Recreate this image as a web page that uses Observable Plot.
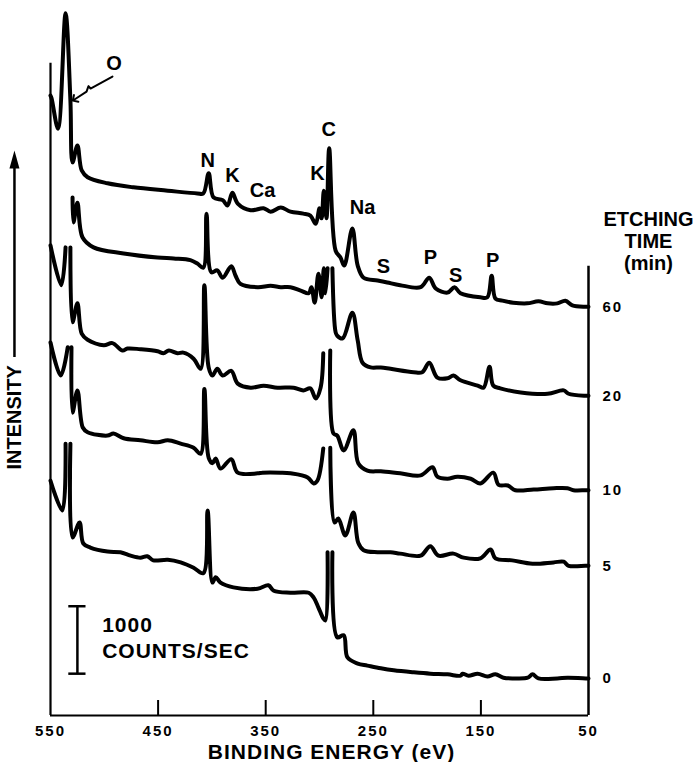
<!DOCTYPE html>
<html>
<head>
<meta charset="utf-8">
<script src="https://cdn.jsdelivr.net/npm/d3@7"></script>
<script src="https://cdn.jsdelivr.net/npm/@observablehq/plot@0.6"></script>
<style>
  html, body { margin: 0; padding: 0; background: #fff; }
  #chart svg { display: block; }
  #chart text { font-family: "Liberation Sans", Arial, sans-serif; font-weight: bold; fill: #000; }
  #chart g[font-size="15"] { letter-spacing: 2px; }
  #chart g[font-size="21"] { letter-spacing: 1px; }
</style>
</head>
<body>
<div id="chart"></div>
<script>
// XPS survey spectra of the surface after successive ion-etching times.
// Each spectrum: [binding energy (eV), counts/sec as stacked on the plot]; null = pen break (off-scale peak).
const etchingTimes = [60, 20, 10, 5, 0]; // minutes

const spectrum60 = [
  [550, 9190], [549, 9150], [543, 8700], [536, 10410], [531.5, 9120], [529.5, 8200], [525, 8450],
  [521, 8080], [515.5, 7980], [497, 7890], [473, 7830], [441, 7780], [413.5, 7740], [408, 7740],
  [403, 8040], [398.5, 7680], [390, 7640], [385.5, 7560], [381, 7750], [376, 7590], [364, 7490],
  [352, 7520], [345.5, 7470], [336, 7530], [327, 7470], [315, 7440], [308.5, 7410], [303.5, 7290],
  [300, 7520], [298, 7370], [296, 7780], [293.5, 7370], [291, 8410], [285, 6890], [280.5, 6790],
  [277, 6670], [269.5, 7220], [264.5, 6670], [259, 6490], [246, 6450], [237, 6420], [225, 6380],
  [206, 6350], [198, 6490], [192, 6330], [181, 6270], [174.5, 6350], [169, 6260], [150.5, 6200],
  [144, 6200], [140, 6520], [136.5, 6180], [130, 6150], [120, 6120], [107, 6110], [96.5, 6140],
  [88, 6110], [79, 6110], [71.5, 6150], [65, 6080], [53, 6060], [50, 6060]
];

const spectrum20 = [
  [529.5, 7680], [528.6, 7310], [525, 7600], [520.3, 7090], [510, 6940], [482, 6850], [450.5, 6790],
  [435.5, 6775], [420, 6750], [413.5, 6700], [408, 6640], [405, 7440], [400.5, 6570], [395, 6600],
  [390, 6490], [382, 6660], [378, 6520], [373.5, 6400], [357.5, 6350], [345.5, 6370], [336, 6350],
  [327, 6350], [317.5, 6300], [310, 6260], [307.5, 6350], [304.5, 6120], [301, 6550], [298, 6200],
  [296, 6630], [294.5, 6260], [292.5, 6630], null, [288, 6630], [285, 5680], [283.5, 5630],
  [278.5, 5590], [269.5, 5970], [264.5, 5560], [260, 5230], [252.5, 5160], [243, 5160], [234, 5140],
  [212.5, 5090], [204.5, 5090], [198, 5230], [190.5, 5010], [181, 5000], [175.5, 5040], [169, 4970],
  [153, 4890], [147.5, 4860], [142, 5170], [138.5, 4890], [132, 4850], [113, 4790], [88, 4770],
  [73, 4820], [68.5, 4770], [53, 4740], [50, 4740]
];

const spectrum10 = [
  [550, 6970], [540, 6380], [536, 6940], null, [531.5, 6940], [529.5, 5830], [525, 6110], [521, 5660],
  [515.5, 5570], [500.5, 5490], [492.5, 5520], [483, 5410], [478.5, 5440], [466.5, 5430], [450.5, 5400],
  [445, 5370], [440, 5410], [432, 5370], [426.5, 5380], [417, 5290], [410.5, 5140], [407, 6380],
  [403, 5160], [399.5, 5040], [395, 5140], [390, 5040], [382, 5110], [376, 4920], [364, 4860],
  [352, 4890], [339, 4860], [324, 4860], [315, 4820], [308.5, 4850], [303.5, 4700], [299, 4860],
  [296.5, 5370], null, [290, 5410], [287, 4180], [283.5, 4150], [277.5, 3930], [268.5, 4230],
  [264, 3740], [255.5, 3630], [243, 3620], [225, 3590], [206, 3560], [195, 3680], [190.5, 3540],
  [181, 3510], [172, 3540], [159.5, 3510], [150.5, 3440], [138.5, 3600], [133.5, 3420], [125, 3410],
  [118, 3340], [101, 3350], [82.5, 3370], [69.5, 3370], [64, 3340], [53, 3340], [50, 3340]
];

const spectrum5 = [
  [550, 5530], [540.5, 5040], [534, 5460], null, [530.5, 5460], [529.5, 4490], [525, 4820], [520, 4270],
  [515.5, 4200], [497, 4150], [491.5, 4180], [482, 4110], [466.5, 4080], [450.5, 4050], [441, 4080],
  [429, 4030], [417, 3970], [410.5, 3880], [407, 4840], [403, 3820], [399.5, 3740], [396.5, 3810],
  [392, 3660], [382, 3800], [376, 3600], [357.5, 3590], [353, 3600], [336, 3600], [327, 3590],
  [311, 3530], [305.5, 3440], [302, 3480], [296.5, 3960], null, [290, 3970], [286, 2860],
  [282.5, 2920], [276, 2670], [268.5, 3010], [264, 2560], [259, 2450], [246, 2420], [234, 2420],
  [225, 2400], [206, 2370], [197, 2510], [189.5, 2370], [175.5, 2400], [166, 2340], [150.5, 2330],
  [141, 2460], [136.5, 2330], [121, 2300], [102, 2250], [82.5, 2270], [73, 2280], [68.5, 2220],
  [53, 2220], [50, 2220]
];

const spectrum0 = [
  [550, 3480], [539, 3040], [536, 4030], null, [531.5, 4030], [529.5, 2640], [523, 2860], [519.5, 2550],
  [513, 2490], [497, 2430], [485, 2420], [475.5, 2370], [466.5, 2340], [460, 2360], [454.5, 2300],
  [441, 2310], [429, 2270], [417, 2190], [408, 2110], [404, 3040], [399.5, 1970], [396.5, 2050],
  [392, 1970], [380, 1900], [357.5, 1880], [347.5, 1930], [342.5, 1850], [327, 1820], [310, 1820],
  [305.5, 1750], [301, 1600], [296.5, 1440], [294.5, 1410], [292.5, 2420], null, [288, 2420],
  [283.5, 1160], [277.5, 1190], [274, 860], [264.5, 770], [255.5, 740], [243, 700], [231, 670],
  [212.5, 640], [197, 620], [181, 610], [169, 590], [167, 620], [161.5, 590], [153, 620], [144, 580],
  [136.5, 610], [129, 560], [119.5, 550], [106.5, 560], [102, 610], [96.5, 550], [79, 550],
  [69.5, 560], [51, 550], [50, 550]
];

const xTicks = [550, 450, 350, 250, 150, 50];
const scaleBarCounts = 1000;
const peakNames = ["O", "N", "K", "Ca", "K", "C", "Na", "S", "P", "S", "P"];
const peakEnergies = [491, 404, 381, 353, 302, 291.5, 260, 240.5, 197, 173.5, 139];

// ---- derived tables ----
const spectra = [spectrum60, spectrum20, spectrum10, spectrum5, spectrum0];
const rows = etchingTimes.flatMap((t, i) =>
  spectra[i].map(p => p ? {time: t, energy: p[0], counts: p[1]} : {time: t, energy: NaN, counts: NaN})
);
const ends = etchingTimes.map((t, i) => {
  const s = spectra[i], last = s[s.length - 1];
  return {time: t, energy: last[0], counts: last[1]};
});
// label heights above the curves (counts/sec on the stacked scale)
const peakLabelY = [9670, 8230, 8000, 7780, 8030, 8690, 7530, 6660, 6790, 6520, 6750];
const peakLabels = peakNames.map((name, i) => ({name, energy: peakEnergies[i], y: peakLabelY[i]}));

// filled arrowhead pointing up, drawn from its base
const arrowHead = {
  draw(context) {
    context.moveTo(0, -18);
    context.lineTo(5, 0);
    context.lineTo(-5, 0);
    context.closePath();
  }
};

const scaleBase = 620;
const oArrow = [
  {energy: 492.4, counts: 9473}, {energy: 512.8, counts: 9295}, {energy: 514.7, counts: 9330},
  {energy: 516.5, counts: 9250}, {energy: 527.7, counts: 9132}
];

const chart = Plot.plot({
  width: 696,
  height: 762,
  marginLeft: 50,
  marginRight: 108,
  marginTop: 0,
  marginBottom: 47,
  x: {domain: [550, 50], axis: null},
  y: {domain: [0, 10600], axis: null},
  style: {background: "#fff", color: "#000", fontFamily: "'Liberation Sans', Arial, sans-serif", overflow: "visible"},
  marks: [
    // frame: bottom axis, left and right verticals, inner ticks
    Plot.ruleY([0], {strokeWidth: 2.2}),
    Plot.ruleX([550], {y1: 0, y2: 9670, strokeWidth: 2.2}),
    Plot.ruleX([50], {y1: 0, y2: 6660, strokeWidth: 2.5}),
    Plot.ruleX(xTicks.slice(1, -1), {insetTop: 700, strokeWidth: 2}),
    Plot.text(xTicks, {x: d => d, text: d => String(d), frameAnchor: "bottom", dy: 16, fontSize: 15, lineAnchor: "middle"}),
    Plot.text(["BINDING ENERGY (eV)"], {text: d => d, frameAnchor: "bottom", dx: 12, dy: 37, fontSize: 21, lineAnchor: "middle"}),

    // spectra
    Plot.line(rows, {x: "energy", y: "counts", z: "time", stroke: "#000", strokeWidth: 4,
      curve: "catmull-rom", strokeLinejoin: "round", strokeLinecap: "round"}),

    // etching time labels at the right end of each trace
    Plot.text(ends, {x: "energy", y: "counts", text: d => String(d.time), dx: 14, textAnchor: "start", fontSize: 15}),
    Plot.text(["ETCHING\nTIME\n(min)"], {text: d => d, x: () => 50, y: () => 7040, dx: 60, fontSize: 20, lineHeight: 1.1}),

    // element labels
    Plot.text(peakLabels, {x: "energy", y: "y", text: "name", fontSize: 20}),
    Plot.line(oArrow, {x: "energy", y: "counts", strokeWidth: 2, markerEnd: "arrow"}),

    // intensity axis label with arrow
    Plot.text(["INTENSITY"], {text: d => d, x: () => 583.5, y: () => 4420, rotate: -90, fontSize: 20}),
    Plot.ruleX([583.5], {y1: 5307, y2: 8130, strokeWidth: 2.5}),
    Plot.dot([583.5], {x: d => d, y: () => 8109, symbol: arrowHead, fill: "#000", stroke: null}),

    // 1000 counts/sec scale bar
    Plot.ruleX([525], {y1: scaleBase, y2: scaleBase + scaleBarCounts, strokeWidth: 2.5}),
    Plot.ruleY([scaleBase, scaleBase + scaleBarCounts], {x1: 533, x2: 517, strokeWidth: 2.5}),
    Plot.text([`${scaleBarCounts}\nCOUNTS/SEC`], {text: d => d, x: () => 502, y: () => 1170,
      textAnchor: "start", fontSize: 21, lineHeight: 1.24})
  ]
});

document.getElementById("chart").appendChild(chart);
</script>
</body>
</html>
